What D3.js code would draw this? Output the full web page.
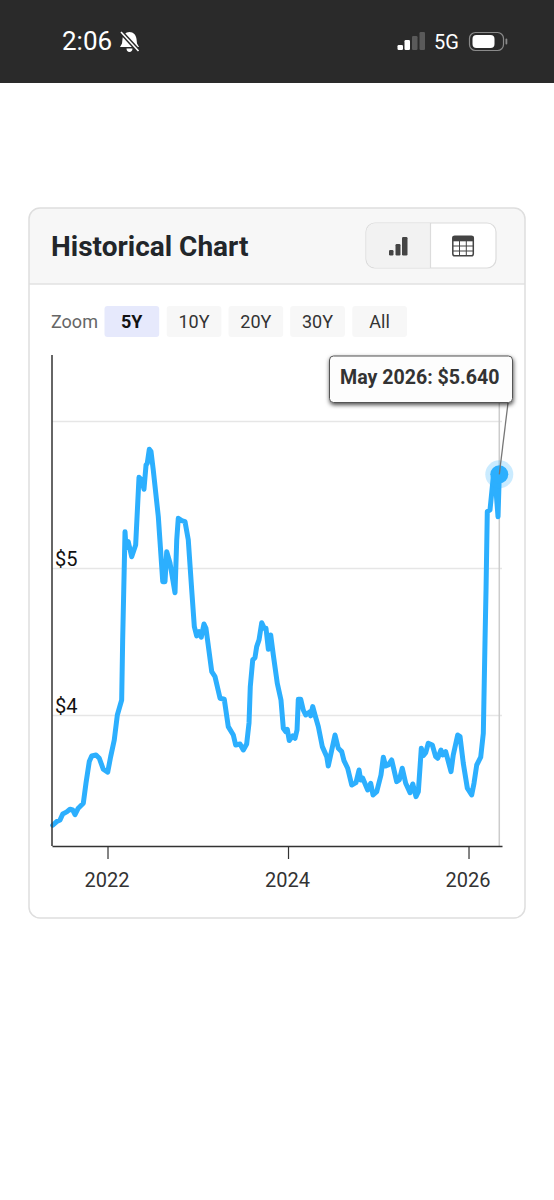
<!DOCTYPE html>
<html>
<head>
<meta charset="utf-8">
<script src="https://cdn.jsdelivr.net/npm/d3@7"></script>
<style>
html,body{margin:0;padding:0;background:#fff}
svg{display:block}
text{font-family:Roboto,sans-serif}
</style>
</head>
<body>
<svg id="c" width="554" height="1200"></svg>
<script>
const chartTitle = "Historical Chart";
const zoomLabel = "Zoom";
const zoomOptions = ["5Y","10Y","20Y","30Y","All"];
const yTickValues = [4,5,6];
const yTickLabels = ["$4","$5",""];
const xTickValues = [2022,2024,2026];
const tooltipLabel = "May 2026";
const dates = [2021.393,2021.437,2021.474,2021.504,2021.548,2021.584,2021.614,2021.640,2021.676,2021.732,2021.762,2021.798,2021.825,2021.873,2021.909,2021.953,
2022.002,2022.035,2022.075,2022.109,2022.157,2022.168,2022.194,2022.205,2022.230,2022.268,2022.312,2022.349,2022.379,2022.404,2022.427,2022.441,2022.463,2022.482,2022.507,2022.563,2022.612,2022.637,2022.656,2022.693,2022.748,2022.767,2022.784,2022.822,2022.859,2022.895,2022.933,2022.962,2022.988,
2023.017,2023.039,2023.069,2023.091,2023.155,2023.191,2023.247,2023.294,2023.338,2023.394,2023.420,2023.468,2023.505,2023.542,2023.568,2023.582,2023.609,2023.634,2023.653,2023.679,2023.709,2023.737,2023.756,2023.782,2023.808,2023.837,2023.881,2023.922,2023.948,2023.974,2023.992,
2024.014,2024.052,2024.078,2024.100,2024.114,2024.141,2024.169,2024.196,2024.244,2024.251,2024.274,2024.299,2024.336,2024.380,2024.429,2024.446,2024.521,2024.557,2024.595,2024.620,2024.661,2024.706,2024.753,2024.787,2024.805,2024.828,2024.883,2024.916,2024.942,2024.983,
2025.030,2025.056,2025.082,2025.111,2025.149,2025.204,2025.233,2025.266,2025.304,2025.352,2025.382,2025.418,2025.444,2025.477,2025.499,2025.526,2025.554,2025.599,2025.636,2025.659,2025.695,2025.714,2025.747,2025.806,2025.831,2025.880,2025.906,2025.942,2025.987,
2026.035,2026.061,2026.091,2026.135,2026.164,2026.183,2026.194,2026.208,2026.238,2026.275,2026.294,2026.327,2026.341];
const prices = [3.253,3.278,3.289,3.330,3.344,3.362,3.357,3.325,3.369,3.403,3.541,3.686,3.724,3.731,3.709,3.634,
3.614,3.720,3.833,4.003,4.105,4.514,5.250,5.139,5.182,5.080,5.160,5.620,5.602,5.539,5.704,5.716,5.811,5.795,5.670,5.352,4.910,4.910,5.114,5.035,4.835,5.194,5.341,5.325,5.318,5.194,4.854,4.604,4.541,
4.570,4.532,4.622,4.593,4.298,4.264,4.117,4.110,3.924,3.867,3.799,3.806,3.765,3.806,3.949,4.196,4.378,4.393,4.468,4.514,4.631,4.593,4.593,4.450,4.548,4.412,4.219,4.105,3.913,3.890,3.906,
3.829,3.861,3.845,3.901,4.110,4.110,4.037,4.003,4.026,3.997,4.060,4.003,3.924,3.788,3.720,3.656,3.867,3.777,3.754,3.693,3.641,3.527,3.543,3.629,3.561,3.573,3.493,3.539,3.459,3.482,
3.595,3.716,3.656,3.663,3.697,3.550,3.561,3.641,3.539,3.475,3.534,3.448,3.482,3.777,3.727,3.747,3.811,3.799,3.720,3.709,3.765,3.731,3.754,3.618,3.731,3.867,3.856,3.675,3.505,
3.459,3.539,3.663,3.716,3.879,4.514,4.854,5.386,5.398,5.625,5.616,5.352,5.640];

const svg = d3.select("#c");
const ink = "#333333";

// status bar
svg.append("rect").attr("width",554).attr("height",83).attr("fill","#2a2a2a");
svg.append("text").attr("x",62).attr("y",50).attr("font-size",26).attr("font-weight",400).attr("fill","#fff").text("2:06");
const bell = svg.append("g").attr("transform","translate(120,31)");
bell.append("path").attr("d","M9.500 1c4 0 6.500 3 7 7l.5 4.500 2 3.500H0l2-3.500L2.500 8c.5-4 3-7 7-7zM6.500 17.500h6c0 2-1.200 3.500-3 3.500s-3-1.500-3-3.500z").attr("fill","#fff");
bell.append("line").attr("x1",1).attr("y1",1).attr("x2",18.500).attr("y2",20).attr("stroke","#2a2a2a").attr("stroke-width",4.500);
bell.append("line").attr("x1",1).attr("y1",1).attr("x2",18.500).attr("y2",20).attr("stroke","#fff").attr("stroke-width",1.600);
[[397.500,45,"#fff"],[404.500,40,"#fff"],[412,36,"#5a5a5a"],[419.500,32,"#5a5a5a"]].forEach(b=>{
  svg.append("rect").attr("x",b[0]).attr("y",b[1]).attr("width",5.500).attr("height",50-b[1]).attr("rx",1.200).attr("fill",b[2]);
});
svg.append("text").attr("x",434).attr("y",49).attr("font-size",20).attr("fill","#fff").text("5G");
svg.append("rect").attr("x",469.500).attr("y",32.500).attr("width",34).attr("height",18).attr("rx",6).attr("fill","none").attr("stroke","#8a8a8a").attr("stroke-width",1.200);
svg.append("rect").attr("x",472.500).attr("y",35).attr("width",22).attr("height",13).attr("rx",4).attr("fill","#fff");
svg.append("rect").attr("x",505.500).attr("y",38.500).attr("width",1.800).attr("height",6).attr("rx",.9).attr("fill","#8a8a8a");

// card
const clip = svg.append("defs").append("clipPath").attr("id","cardClip");
clip.append("rect").attr("x",29).attr("y",208).attr("width",496).attr("height",710).attr("rx",11);
svg.append("rect").attr("x",29).attr("y",208).attr("width",496).attr("height",76).attr("fill","#f7f7f7").attr("clip-path","url(#cardClip)");
svg.append("line").attr("x1",29).attr("x2",525).attr("y1",284).attr("y2",284).attr("stroke","#e2e2e2").attr("stroke-width",1.500);
svg.append("rect").attr("x",29).attr("y",208).attr("width",496).attr("height",710).attr("rx",11).attr("fill","none").attr("stroke","#dedede").attr("stroke-width",1.500);
svg.append("text").attr("x",51).attr("y",256).attr("font-size",28).attr("font-weight",700).attr("fill","#22262a").text(chartTitle);

// toggle
svg.append("rect").attr("x",366).attr("y",223).attr("width",130).attr("height",45).attr("rx",9).attr("fill","#fff").attr("stroke","#dcdcdc").attr("stroke-width",1.200);
svg.append("path").attr("d","M375 223.600H430.500V267.400H375a8.500 8.500 0 0 1-8.500-8.500V232.100a8.500 8.500 0 0 1 8.500-8.500z").attr("fill","#f2f2f2");
svg.append("line").attr("x1",430.500).attr("x2",430.500).attr("y1",223).attr("y2",268).attr("stroke","#dcdcdc").attr("stroke-width",1.200);
[[389,250,4.500],[395.500,244,5],[402,237,5.500]].forEach(b=>{
  svg.append("rect").attr("x",b[0]).attr("y",b[1]).attr("width",b[2]).attr("height",255.500-b[1]).attr("rx",1.200).attr("fill","#444");
});
svg.append("rect").attr("x",452.800).attr("y",236.300).attr("width",20.500).attr("height",19.500).attr("rx",2).attr("fill","none").attr("stroke","#444").attr("stroke-width",1.500);
svg.append("rect").attr("x",452.800).attr("y",236.300).attr("width",20.500).attr("height",5).attr("fill","#444");
[459.500,466.300].forEach(x=>svg.append("line").attr("x1",x).attr("x2",x).attr("y1",241).attr("y2",256).attr("stroke","#444").attr("stroke-width",1));
[246,251].forEach(y=>svg.append("line").attr("x1",453).attr("x2",473).attr("y1",y).attr("y2",y).attr("stroke","#444").attr("stroke-width",1));

// zoom row
svg.append("text").attr("x",51).attr("y",328).attr("font-size",18).attr("fill","#666").text(zoomLabel);
const zoomX = [104.500,166.700,228.500,290.200,352.300];
zoomOptions.forEach((z,i)=>{
  svg.append("rect").attr("x",zoomX[i]).attr("y",306).attr("width",54.700).attr("height",31).attr("rx",3).attr("fill",i===0?"#e6e9fc":"#f7f7f7");
  svg.append("text").attr("x",zoomX[i]+27.300).attr("y",328).attr("text-anchor","middle").attr("font-size",18)
    .attr("font-weight",i===0?700:400).attr("fill",i===0?"#111":"#333").text(z);
});

// plot
const x = d3.scaleLinear().domain([2021.385,2026.371]).range([52,502]);
const y = d3.scaleLinear().domain([3.112,6.452]).range([846,355]);
const last = dates.length-1;
const px = x(dates[last]), py = y(prices[last]);

svg.append("g").selectAll("line").data(yTickValues).join("line")
  .attr("x1",52).attr("x2",502).attr("y1",d=>y(d)).attr("y2",d=>y(d)).attr("stroke","#e6e6e6").attr("stroke-width",1.500);
svg.append("line").attr("x1",px).attr("x2",px).attr("y1",403).attr("y2",846).attr("stroke","#cccccc").attr("stroke-width",1.500);

const line = d3.line().x((d,i)=>x(dates[i])).y(d=>y(d)).curve(d3.curveLinear);
svg.append("path").datum(prices).attr("d",line).attr("fill","none").attr("stroke","#2caffe").attr("stroke-width",5).attr("stroke-linejoin","round").attr("stroke-linecap","round");

// axes
const xAxis = d3.axisBottom(x).tickValues(xTickValues).tickFormat(d3.format("d")).tickSizeInner(13).tickSizeOuter(0).tickPadding(14);
const gx = svg.append("g").attr("transform","translate(0,846)").call(xAxis);
gx.selectAll("path").attr("stroke","#333").attr("stroke-width",1.500);
gx.selectAll("line").attr("stroke","#333").attr("stroke-width",1.200);
gx.selectAll("text").attr("font-size",20).attr("fill",ink).attr("font-family","Roboto,sans-serif").attr("dx",-1);
const yAxis = d3.axisLeft(y).tickValues(yTickValues).tickFormat((d,i)=>yTickLabels[i]).tickSize(0);
const gy = svg.append("g").attr("transform","translate(52,0)").call(yAxis);
gy.select("path").remove();
svg.append("line").attr("x1",52).attr("x2",52).attr("y1",355).attr("y2",846).attr("stroke","#333").attr("stroke-width",1.500);
gy.selectAll("text").attr("x",3).attr("dy",0).attr("y",-3).attr("text-anchor","start").attr("font-size",20).attr("fill","#111").attr("font-family","Roboto,sans-serif");

// marker
svg.append("circle").attr("cx",px).attr("cy",py).attr("r",14).attr("fill","#2caffe").attr("opacity",.25);
svg.append("circle").attr("cx",px).attr("cy",py).attr("r",9).attr("fill","#2caffe");

// tooltip
const f = svg.select("defs").append("filter").attr("id","sh").attr("x","-10%").attr("y","-20%").attr("width","120%").attr("height","150%");
f.append("feDropShadow").attr("dx",0.500).attr("dy",2).attr("stdDeviation",2).attr("flood-color","#000").attr("flood-opacity",.7);
svg.append("line").attr("x1",508).attr("y1",403).attr("x2",px).attr("y2",py).attr("stroke","#777").attr("stroke-width",1.300);
svg.append("rect").attr("x",329.500).attr("y",356).attr("width",183).attr("height",46.500).attr("rx",4).attr("fill","#fdfdfd").attr("stroke","#555").attr("stroke-width",1).attr("filter","url(#sh)");
svg.append("text").attr("x",340).attr("y",384).attr("font-size",19.600).attr("font-weight",700).attr("fill",ink)
  .text(tooltipLabel+": $"+prices[last].toFixed(3));
</script>
</body>
</html>
